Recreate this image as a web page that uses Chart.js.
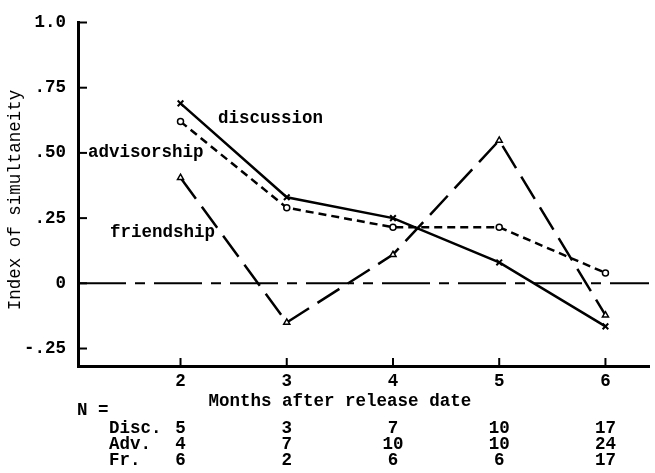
<!DOCTYPE html>
<html>
<head>
<meta charset="utf-8">
<script src="https://cdn.jsdelivr.net/npm/chart.js@4/dist/chart.umd.min.js"></script>
<style>
  html, body { margin: 0; padding: 0; background: #fff; }
  #wrap { width: 655px; height: 473px; }
</style>
</head>
<body>
<div id="wrap"><canvas id="c" width="655" height="473"></canvas></div>
<script>
// datos
const months = [2, 3, 4, 5, 6];
const discussion = [0.69, 0.33, 0.25, 0.08, -0.165];
const advisorship = [0.62, 0.29, 0.215, 0.215, 0.04];
const friendship = [0.405, -0.15, 0.11, 0.548, -0.122];
const yTicks = [-0.25, 0, 0.25, 0.5, 0.75, 1.0];
const yTickLabels = ['-.25', '0', '.25', '.50', '.75', '1.0'];
const seriesNames = ['discussion', 'advisorship', 'friendship'];
const nRowLabels = ['Disc.', 'Adv.', 'Fr.'];
const nDisc = [5, 3, 7, 10, 17];
const nAdv = [4, 7, 10, 10, 24];
const nFr = [6, 2, 6, 6, 17];

const FONT = '"Liberation Mono", "Courier New", monospace';
const font = { family: FONT, size: 17.5, weight: 'bold' };
const toPts = vals => months.map((m, i) => ({ x: m, y: vals[i] }));

// ejes, marcas, etiquetas y tabla de N
const extras = {
  id: 'extras',
  beforeDatasetsDraw(chart) {
    const { ctx, chartArea: a, scales: { y } } = chart;
    const y0 = y.getPixelForValue(0);
    ctx.save();
    ctx.strokeStyle = '#000';
    ctx.lineWidth = 2;
    ctx.setLineDash([48, 9, 10, 9]);
    ctx.beginPath();
    ctx.moveTo(a.left, y0);
    ctx.lineTo(a.right, y0);
    ctx.stroke();
    ctx.restore();
  },
  afterDraw(chart) {
    const { ctx, chartArea: a, scales: { x, y } } = chart;
    ctx.save();
    ctx.strokeStyle = '#000';
    ctx.lineWidth = 2;
    // marcas hacia dentro
    yTicks.forEach(v => {
      const py = y.getPixelForValue(v);
      ctx.beginPath(); ctx.moveTo(a.left, py); ctx.lineTo(a.left + 9, py); ctx.stroke();
    });
    months.forEach(m => {
      const px = x.getPixelForValue(m);
      ctx.beginPath(); ctx.moveTo(px, a.bottom); ctx.lineTo(px, a.bottom - 8); ctx.stroke();
    });

    ctx.fillStyle = '#000';
    ctx.textBaseline = 'middle';

    // titulo eje y
    ctx.save();
    ctx.font = '17.5px ' + FONT;
    ctx.translate(15, 200);
    ctx.rotate(-Math.PI / 2);
    ctx.textAlign = 'center';
    ctx.fillText('Index of simultaneity', 0, 0);
    ctx.restore();

    ctx.font = 'bold 17.5px ' + FONT;
    ctx.textAlign = 'left';
    // nombres de las series
    ctx.fillText(seriesNames[0], 218, y.getPixelForValue(0.63));
    ctx.fillText(seriesNames[1], 88, y.getPixelForValue(0.5));
    ctx.fillText(seriesNames[2], 110, y.getPixelForValue(0.195));

    // titulo eje x
    ctx.textAlign = 'center';
    ctx.fillText('Months after release date', x.getPixelForValue(3.5), a.bottom + 36);

    // tabla N
    ctx.textAlign = 'left';
    ctx.fillText('N =', 77, a.bottom + 45);
    const rows = [nDisc, nAdv, nFr];
    rows.forEach((vals, r) => {
      const py = a.bottom + 63 + r * 16;
      ctx.textAlign = 'left';
      ctx.fillText(nRowLabels[r], 109, py);
      ctx.textAlign = 'center';
      vals.forEach((v, i) => ctx.fillText(String(v), x.getPixelForValue(months[i]), py));
    });
    ctx.restore();
  }
};

new Chart(document.getElementById('c'), {
  type: 'line',
  data: {
    datasets: [
      {
        label: seriesNames[0], data: toPts(discussion),
        borderColor: '#000', borderWidth: 2.5, pointStyle: 'crossRot',
        pointRadius: 4, pointBorderColor: '#000', pointBorderWidth: 2
      },
      {
        label: seriesNames[1], data: toPts(advisorship),
        borderColor: '#000', borderWidth: 2.5, borderDash: [8, 5],
        pointStyle: 'circle', pointRadius: 3, pointBackgroundColor: '#fff',
        pointBorderColor: '#000', pointBorderWidth: 1.5
      },
      {
        label: seriesNames[2], data: toPts(friendship),
        borderColor: '#000', borderWidth: 2.5, borderDash: [26, 10],
        pointStyle: 'triangle', pointRadius: 3.5, pointBackgroundColor: '#fff',
        pointBorderColor: '#000', pointBorderWidth: 1.5
      }
    ]
  },
  options: {
    responsive: false,
    animation: false,
    devicePixelRatio: 1,
    layout: { padding: { top: 20, right: 2, left: 0, bottom: 0 } },
    plugins: { legend: { display: false }, tooltip: { enabled: false } },
    scales: {
      x: {
        type: 'linear', min: 1.035, max: 6.41,
        afterFit: s => { s.height = 107; },
        afterBuildTicks: s => { s.ticks = months.map(v => ({ value: v })); },
        grid: { display: false, drawTicks: false },
        border: { display: true, color: '#000', width: 3 },
        ticks: { color: '#000', font, padding: 5, maxRotation: 0, callback: v => String(v) }
      },
      y: {
        type: 'linear', min: -0.317, max: 1.0,
        afterFit: s => { s.width = 78; },
        afterBuildTicks: s => { s.ticks = yTicks.map(v => ({ value: v })); },
        grid: { display: false, drawTicks: false },
        border: { display: true, color: '#000', width: 3 },
        ticks: {
          color: '#000', font, padding: 12,
          callback: v => yTickLabels[yTicks.indexOf(v)]
        }
      }
    }
  },
  plugins: [extras]
});
</script>
</body>
</html>
